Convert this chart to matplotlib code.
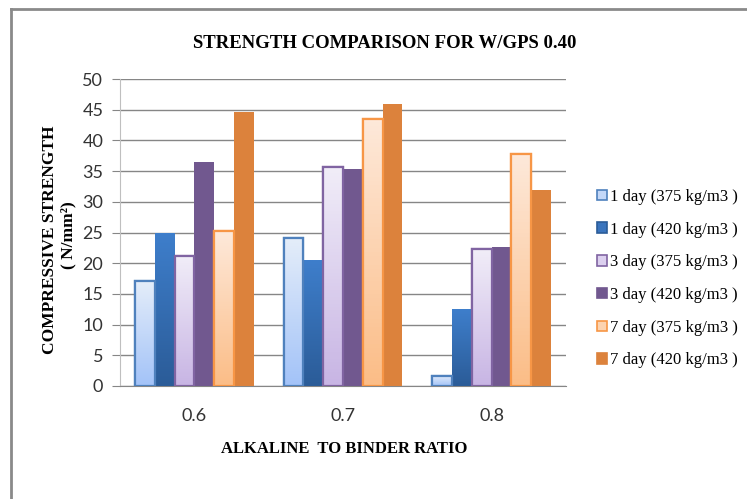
import numpy as np
import matplotlib
matplotlib.use("Agg")
import matplotlib.pyplot as plt
from matplotlib.colors import LinearSegmentedColormap
from matplotlib.lines import Line2D
from matplotlib.patches import Patch

# ── Data ───────────────────────────────────────────────────────────────────
ratios = ["0.6", "0.7", "0.8"]
series_labels = [
    "1 day (375 kg/m3 )",
    "1 day (420 kg/m3 )",
    "3 day (375 kg/m3 )",
    "3 day (420 kg/m3 )",
    "7 day (375 kg/m3 )",
    "7 day (420 kg/m3 )",
]
day1_375 = [17.1, 24.1, 1.7]
day1_420 = [24.9, 20.5, 12.5]
day3_375 = [21.2, 35.7, 22.3]
day3_420 = [36.5, 35.4, 22.6]
day7_375 = [25.2, 43.5, 37.8]
day7_420 = [44.6, 45.9, 32.0]
values = [day1_375, day1_420, day3_375, day3_420, day7_375, day7_420]
y_ticks = [0, 5, 10, 15, 20, 25, 30, 35, 40, 45, 50]

# ── Styles: (top colour, bottom colour, edge colour) ──────────────────────
STYLES = [
    ("#e4edfa", "#a3c3f8", "#4f81bd"),
    ("#3e7ecb", "#2b5c98", None),
    ("#f1edf8", "#c8b5e4", "#8064a2"),
    ("#71588f", "#71588f", None),
    ("#fee9da", "#fbbd87", "#f79646"),
    ("#dc823c", "#dc823c", None),
]
LEGEND_FACE = ["#c4d8f8", "#3a74bd", "#dcd0ef", "#71588f", "#fcd3b0", "#dc823c"]
LEGEND_EDGE = ["#4f81bd", "#2b5c98", "#8064a2", "#71588f", "#f79646", "#dc823c"]

SERIF = ["Liberation Serif", "DejaVu Serif"]
SANS = ["Lato", "DejaVu Sans"]

W, H = 747, 499


def fx(px):
    return px / W


def fy(py):
    return 1 - py / H


fig = plt.figure(figsize=(7.47, 4.99), dpi=100)
ax = fig.add_axes([fx(120), fy(386), 446 / W, 307 / H])

n = len(values)
width = 0.8 / n
x = np.arange(len(ratios))

for i, (vals, (top, bot, edge)) in enumerate(zip(values, STYLES)):
    pos = x - 0.4 + width * (i + 0.5)
    bars = ax.bar(pos, vals, width=width, color=bot,
                  edgecolor=edge if edge else "none",
                  linewidth=1.6 if edge else 0, zorder=3)
    if top != bot:
        # vertical gradient fill, clipped to each bar
        cmap = LinearSegmentedColormap.from_list(f"g{i}", [bot, top])
        grad = np.linspace(0, 1, 64).reshape(-1, 1)
        for b in bars:
            bx, by = b.get_x(), b.get_y()
            im = ax.imshow(grad, cmap=cmap, aspect="auto", origin="lower",
                           extent=[bx, bx + b.get_width(), by, by + b.get_height()],
                           zorder=3.5)
            im.set_clip_path(b)
        if edge:
            ax.bar(pos, vals, width=width, facecolor="none", edgecolor=edge,
                   linewidth=1.6, zorder=4)

ax.set_xlim(-0.5, len(ratios) - 0.5)
ax.set_ylim(0, 50)
ax.set_yticks(y_ticks)
ax.set_xticks(x)
ax.set_xticklabels(ratios)

ax.yaxis.grid(True, color="#868686", linewidth=1.0)
ax.set_axisbelow(True)
for side in ["top", "right"]:
    ax.spines[side].set_visible(False)
ax.spines["left"].set_color("#bfbfbf")
ax.spines["bottom"].set_color("#868686")
ax.tick_params(axis="y", length=6, color="#868686", pad=6)
ax.tick_params(axis="x", length=0, pad=16)
for lbl in ax.get_xticklabels() + ax.get_yticklabels():
    lbl.set_fontfamily(SANS)
    lbl.set_fontsize(13)
    lbl.set_color("#333333")

# ── Titles / axis labels ──────────────────────────────────────────────────
fig.text(fx(385), fy(44), "STRENGTH COMPARISON FOR W/GPS 0.40",
         ha="center", va="center", fontsize=13.5, fontweight="bold",
         family=SERIF)
fig.text(fx(344), fy(449), "ALKALINE  TO BINDER RATIO",
         ha="center", va="center", fontsize=12, fontweight="bold",
         family=SERIF)
fig.text(fx(50), fy(240), "COMPRESSIVE STRENGTH",
         ha="center", va="center", rotation=90, fontsize=12.5,
         fontweight="bold", family=SERIF)
fig.text(fx(68), fy(235), "( N/mm²)",
         ha="center", va="center", rotation=90, fontsize=12.5,
         fontweight="bold", family=SERIF)

# ── Legend ─────────────────────────────────────────────────────────────────
handles = [Patch(facecolor=f, edgecolor=e, linewidth=1.2)
           for f, e in zip(LEGEND_FACE, LEGEND_EDGE)]
fig.legend(handles, series_labels, loc="upper left",
           bbox_to_anchor=(fx(597), fy(189)), frameon=False,
           borderpad=0, borderaxespad=0,
           handlelength=0.6, handleheight=0.6, handletextpad=0.15,
           labelspacing=1.0, prop={"family": SERIF, "size": 12})

# outer border of the chart object
fig.add_artist(Line2D([fx(11), fx(11)], [0, fy(9)],
                      transform=fig.transFigure, color="#8a8a8a", lw=2))
fig.add_artist(Line2D([fx(11), 1], [fy(9), fy(9)],
                      transform=fig.transFigure, color="#8a8a8a", lw=2))

fig.savefig("out.png", dpi=100)
